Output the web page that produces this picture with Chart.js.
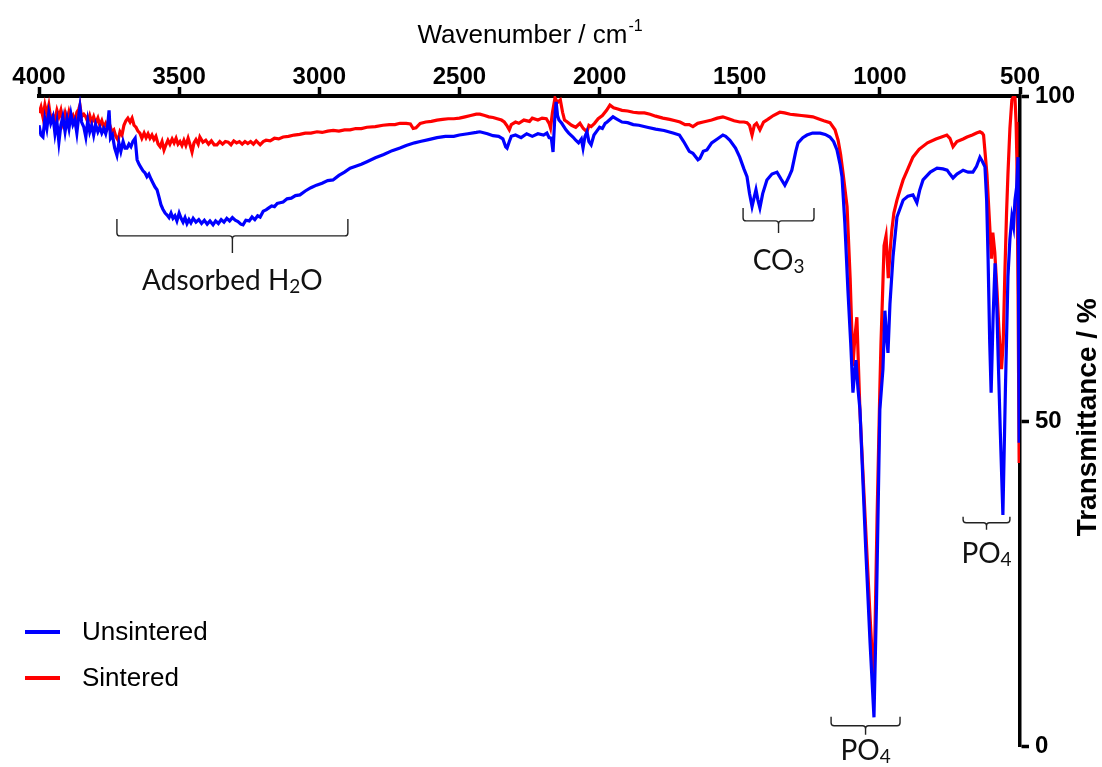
<!DOCTYPE html>
<html>
<head>
<meta charset="utf-8">
<script src="https://cdn.jsdelivr.net/npm/chart.js@4"></script>
<style>
  html, body { margin: 0; padding: 0; background: #fff; }
  canvas { display: block; }
</style>
</head>
<body>
<canvas id="chart" width="1102" height="767"></canvas>
<script>
// FTIR spectra: [wavenumber / cm-1, transmittance / %]
const seriesNames = ['Unsintered', 'Sintered'];
const wavenumberTicks = [4000, 3500, 3000, 2500, 2000, 1500, 1000, 500];
const transmittanceTicks = [0, 50, 100];

const unsintered = [
    [4000, 95.5], [3993, 94.0], [3986, 93.7], [3979, 96.5], [3972, 95.0], [3965, 97.4], [3958, 95.8],
    [3950, 96.8], [3943, 94.2], [3936, 96.0], [3929, 92.9], [3922, 95.5], [3915, 96.8], [3907, 94.5],
    [3900, 96.5], [3893, 95.0], [3886, 97.2], [3879, 95.6], [3872, 96.3], [3865, 94.3], [3858, 97.0],
    [3854, 98.3], [3848, 96.0], [3840, 95.2], [3833, 93.7], [3826, 96.2], [3819, 94.5], [3812, 95.5],
    [3805, 94.0], [3798, 95.6], [3790, 94.5], [3783, 95.2], [3776, 94.3], [3769, 95.0], [3762, 94.2],
    [3755, 95.5], [3750, 97.8], [3745, 93.5], [3738, 94.0], [3730, 92.0], [3722, 90.9], [3715, 92.8],
    [3708, 91.5], [3700, 93.0], [3693, 92.0], [3686, 92.0], [3679, 92.6], [3672, 92.2], [3665, 93.0],
    [3657, 93.5], [3650, 90.2], [3643, 89.5], [3636, 89.0], [3629, 88.5], [3622, 88.2], [3615, 87.6],
    [3608, 88.0], [3600, 87.2], [3593, 86.6], [3586, 86.0], [3579, 85.6], [3572, 84.5], [3565, 83.3],
    [3558, 82.6], [3550, 82.0], [3543, 81.7], [3536, 81.3], [3529, 82.0], [3522, 81.2], [3515, 81.6],
    [3508, 80.8], [3500, 82.0], [3493, 81.2], [3486, 80.6], [3479, 81.3], [3472, 80.4], [3465, 81.0],
    [3458, 80.5], [3450, 81.2], [3440, 80.6], [3430, 81.0], [3420, 80.4], [3410, 80.9], [3400, 80.3],
    [3390, 80.8], [3379, 80.2], [3370, 80.8], [3360, 80.4], [3350, 81.0], [3340, 80.6], [3330, 81.2],
    [3320, 80.8], [3310, 81.3], [3300, 80.9], [3290, 80.7], [3280, 80.3], [3272, 80.2], [3262, 80.9],
    [3250, 80.8], [3240, 81.4], [3230, 81.0], [3220, 81.6], [3211, 81.4], [3200, 82.3], [3190, 82.5],
    [3180, 82.8], [3170, 83.1], [3160, 83.0], [3150, 83.5], [3140, 83.6], [3129, 83.7], [3115, 84.2],
    [3100, 84.3], [3085, 84.7], [3069, 84.8], [3050, 85.4], [3030, 85.9], [3010, 86.3], [2990, 86.6],
    [2970, 87.0], [2951, 87.1], [2930, 87.8], [2910, 88.3], [2890, 88.9], [2870, 89.2], [2850, 89.5],
    [2830, 89.9], [2800, 90.5], [2770, 91.0], [2740, 91.6], [2712, 92.0], [2690, 92.4], [2660, 92.8],
    [2640, 93.0], [2610, 93.3], [2580, 93.6], [2550, 93.8], [2520, 93.8], [2500, 94.0], [2470, 94.2],
    [2440, 94.4], [2427, 94.5], [2400, 94.2], [2380, 93.9], [2360, 93.8], [2345, 93.4], [2335, 92.2],
    [2330, 92.0], [2322, 93.0], [2315, 93.8], [2300, 94.0], [2280, 93.6], [2260, 94.2], [2240, 93.8],
    [2220, 94.2], [2200, 94.0], [2188, 94.3], [2180, 93.6], [2172, 93.5], [2166, 91.4], [2160, 96.5],
    [2155, 99.1], [2150, 97.0], [2145, 96.3], [2135, 95.8], [2120, 94.8], [2110, 94.3], [2095, 93.7],
    [2085, 93.2], [2075, 92.8], [2065, 93.4], [2059, 92.0], [2052, 93.8], [2045, 94.5], [2038, 93.0],
    [2030, 92.5], [2020, 94.0], [2010, 94.6], [2000, 95.2], [1990, 95.0], [1980, 95.8], [1973, 96.0],
    [1960, 96.5], [1952, 96.8], [1940, 96.5], [1920, 96.0], [1900, 95.9], [1880, 95.6], [1860, 95.5],
    [1830, 95.2], [1800, 94.9], [1770, 94.7], [1738, 94.3], [1715, 94.0], [1700, 93.0], [1680, 91.5],
    [1667, 91.2], [1649, 90.2], [1642, 90.4], [1630, 91.5], [1617, 91.7], [1600, 92.8], [1580, 93.4],
    [1560, 94.0], [1550, 93.8], [1535, 93.2], [1515, 92.0], [1500, 90.6], [1485, 88.8], [1474, 87.6],
    [1465, 85.0], [1456, 83.0], [1448, 84.5], [1442, 85.6], [1435, 84.0], [1428, 82.8], [1418, 85.0],
    [1403, 87.1], [1385, 88.0], [1367, 88.3], [1352, 87.2], [1339, 86.3], [1325, 87.5], [1314, 88.6],
    [1300, 91.5], [1292, 92.8], [1275, 93.6], [1260, 94.0], [1240, 94.3], [1213, 94.3], [1195, 94.1],
    [1178, 93.7], [1165, 93.0], [1153, 91.7], [1142, 89.5], [1135, 87.6], [1125, 80.5], [1114, 70.2],
    [1104, 62.0], [1096, 54.4], [1090, 57.5], [1085, 59.4], [1078, 55.0], [1071, 51.8], [1050, 30.0],
    [1035, 16.0], [1021, 4.5], [1012, 22.0], [1000, 51.8], [989, 58.0], [982, 67.0], [976, 63.0],
    [971, 60.5], [964, 68.0], [953, 75.3], [939, 81.4], [917, 84.0], [900, 84.6], [882, 84.8],
    [868, 83.6], [858, 85.5], [846, 87.1], [820, 88.3], [796, 88.9], [775, 88.8], [760, 88.6],
    [750, 88.0], [739, 87.4], [725, 88.0], [703, 88.6], [685, 88.3], [668, 88.3], [655, 89.2],
    [643, 90.6], [635, 90.0], [625, 89.1], [619, 84.0], [614, 75.3], [608, 62.0], [603, 54.4],
    [596, 66.0], [589, 74.3], [583, 68.0], [578, 60.0], [570, 48.0], [561, 35.6], [552, 55.0],
    [543, 72.2], [536, 78.0], [529, 81.4], [523, 80.0], [518, 84.0], [512, 86.0], [507, 90.6],
    [503, 46.7]
];

const sintered = [
    [4000, 97.4], [3993, 98.3], [3986, 96.8], [3979, 98.6], [3972, 97.2], [3965, 98.6], [3958, 96.5],
    [3950, 97.0], [3943, 96.3], [3936, 97.8], [3929, 96.8], [3922, 97.8], [3915, 96.0], [3907, 97.4],
    [3900, 96.2], [3893, 97.6], [3886, 96.5], [3879, 97.0], [3872, 96.0], [3865, 97.5], [3858, 98.0],
    [3854, 98.6], [3848, 96.8], [3840, 97.2], [3833, 96.8], [3826, 96.0], [3819, 97.0], [3812, 96.0],
    [3805, 96.8], [3798, 95.8], [3790, 96.6], [3783, 95.5], [3776, 96.2], [3769, 95.2], [3762, 95.8],
    [3755, 95.0], [3748, 95.6], [3740, 94.5], [3733, 94.8], [3726, 93.8], [3718, 93.2], [3711, 94.5],
    [3704, 94.0], [3697, 95.5], [3690, 96.2], [3683, 96.6], [3675, 96.0], [3668, 96.6], [3661, 95.5],
    [3654, 95.2], [3647, 94.6], [3640, 94.3], [3633, 93.5], [3625, 94.3], [3618, 93.6], [3611, 94.2],
    [3604, 93.5], [3597, 94.0], [3590, 93.3], [3583, 93.8], [3575, 92.6], [3568, 92.2], [3561, 93.0],
    [3554, 91.7], [3547, 92.5], [3540, 93.2], [3533, 92.6], [3525, 93.4], [3518, 92.8], [3511, 93.5],
    [3504, 92.6], [3497, 93.0], [3490, 92.4], [3483, 93.2], [3476, 92.4], [3468, 93.5], [3461, 92.5],
    [3454, 91.4], [3447, 92.8], [3440, 93.3], [3432, 92.6], [3426, 93.7], [3415, 92.9], [3405, 93.2],
    [3395, 92.6], [3385, 93.1], [3375, 92.5], [3365, 92.5], [3355, 93.0], [3345, 92.6], [3335, 93.0],
    [3325, 92.9], [3315, 92.5], [3305, 93.1], [3295, 92.8], [3285, 93.0], [3275, 92.6], [3265, 93.0],
    [3255, 92.7], [3245, 93.0], [3235, 92.6], [3225, 93.1], [3211, 92.5], [3200, 93.0], [3190, 93.2],
    [3175, 93.1], [3160, 93.5], [3145, 93.4], [3129, 93.7], [3110, 93.8], [3090, 94.0], [3070, 94.1],
    [3050, 94.3], [3030, 94.3], [3008, 94.5], [2990, 94.4], [2970, 94.6], [2950, 94.7], [2930, 94.6],
    [2910, 94.8], [2890, 94.8], [2870, 95.0], [2850, 95.0], [2830, 95.2], [2800, 95.3], [2773, 95.5],
    [2750, 95.6], [2730, 95.6], [2712, 95.8], [2690, 95.8], [2675, 95.7], [2665, 95.0], [2655, 95.1],
    [2640, 95.8], [2620, 96.0], [2600, 96.1], [2580, 96.3], [2560, 96.4], [2540, 96.5], [2520, 96.5],
    [2500, 96.6], [2480, 96.8], [2460, 97.0], [2440, 97.2], [2427, 97.2], [2410, 97.0], [2395, 96.8],
    [2380, 96.7], [2365, 96.5], [2350, 96.3], [2340, 96.0], [2330, 95.4], [2322, 94.8], [2315, 95.6],
    [2300, 96.0], [2288, 95.8], [2270, 96.3], [2250, 96.1], [2240, 96.6], [2220, 96.3], [2205, 96.6],
    [2190, 96.5], [2180, 95.8], [2175, 95.1], [2168, 97.5], [2159, 99.7], [2150, 99.0], [2140, 99.4],
    [2132, 97.5], [2125, 96.3], [2115, 96.0], [2100, 95.5], [2085, 95.2], [2070, 95.8], [2058, 95.0],
    [2045, 94.5], [2038, 95.5], [2030, 95.3], [2018, 95.8], [2005, 96.5], [1990, 97.0], [1975, 97.8],
    [1963, 98.6], [1950, 98.2], [1935, 98.0], [1920, 97.8], [1900, 97.7], [1880, 97.5], [1860, 97.4],
    [1840, 97.4], [1820, 97.2], [1800, 96.9], [1774, 96.6], [1750, 96.4], [1730, 96.2], [1713, 96.0],
    [1695, 95.6], [1680, 95.6], [1667, 95.3], [1650, 95.8], [1630, 96.0], [1600, 96.3], [1580, 96.6],
    [1560, 96.8], [1540, 96.5], [1520, 96.2], [1500, 96.0], [1485, 96.0], [1474, 95.9], [1465, 95.5],
    [1456, 94.0], [1448, 95.5], [1440, 95.8], [1428, 94.8], [1415, 96.0], [1400, 96.4], [1380, 97.0],
    [1357, 97.5], [1340, 97.4], [1320, 97.2], [1300, 97.1], [1280, 97.0], [1260, 96.9], [1239, 96.8],
    [1220, 96.5], [1200, 96.2], [1178, 95.9], [1160, 94.8], [1149, 93.2], [1140, 91.0], [1131, 88.0],
    [1117, 83.0], [1106, 72.0], [1096, 58.5], [1089, 63.0], [1082, 66.0], [1076, 58.0], [1071, 51.5],
    [1050, 33.0], [1035, 20.0], [1021, 9.1], [1010, 35.0], [1000, 55.0], [996, 62.0], [990, 70.0],
    [985, 77.0], [978, 78.5], [970, 72.0], [962, 77.0], [957, 79.5], [950, 82.0], [939, 84.0],
    [928, 85.6], [917, 87.1], [900, 88.8], [882, 90.6], [860, 91.8], [830, 92.8], [800, 93.4],
    [780, 93.7], [761, 94.0], [750, 93.5], [739, 92.2], [725, 93.0], [703, 93.4], [689, 93.7],
    [670, 94.0], [655, 94.3], [643, 94.5], [635, 94.3], [630, 94.0], [618, 88.0], [608, 80.0],
    [602, 75.0], [597, 79.0], [590, 76.0], [582, 70.0], [575, 64.0], [566, 58.0], [560, 62.0],
    [554, 72.8], [548, 82.0], [543, 88.0], [536, 95.0], [529, 99.4], [522, 100.0], [518, 99.8],
    [514, 96.0], [511, 90.0], [507, 70.0], [503, 43.6]
];

// band labels: bracket spans [from, to] in cm-1, horizontal bar at transmittance `at`
const bands = [
    { text: 'Adsorbed H', sub: '2', tail: 'O', from: 3722, to: 2898, at: 78.5, rise: 17, drop: 17, textDy: 54 },
    { text: 'CO', sub: '3', tail: '', from: 1488, to: 1235, at: 80.8, rise: 13, drop: 12, textDy: 49 },
    { text: 'PO', sub: '4', tail: '', from: 1174, to: 928, at: 3.2, rise: 9, drop: 9, textDy: 34 },
    { text: 'PO', sub: '4', tail: '', from: 703, to: 536, at: 34.4, rise: 6, drop: 7, textDy: 40 }
];

const COLOR_UNSINTERED = '#0000ff';
const COLOR_SINTERED   = '#ff0000';
const FONT_SANS  = '"Liberation Sans", Arial, sans-serif';
const FONT_LABEL = 'Lato, "Open Sans", sans-serif';

Chart.defaults.font.family = FONT_SANS;

function toPoints(pairs) {
    return pairs.map(p => ({ x: p[0], y: p[1] }));
}

function drawBracket(ctx, xL, xR, y, rise, drop) {
    const xc = (xL + xR) / 2;
    const r = 3;
    ctx.beginPath();
    ctx.moveTo(xL, y - rise);
    ctx.lineTo(xL, y - r);
    ctx.quadraticCurveTo(xL, y, xL + r, y);
    ctx.lineTo(xc - r, y);
    ctx.quadraticCurveTo(xc, y, xc, y + r);
    ctx.lineTo(xc, y + drop);
    ctx.moveTo(xc, y + r);
    ctx.quadraticCurveTo(xc, y, xc + r, y);
    ctx.lineTo(xR - r, y);
    ctx.quadraticCurveTo(xR, y, xR, y - r);
    ctx.lineTo(xR, y - rise);
    ctx.stroke();
}

// text with a subscript part, centred on cx
function drawSubText(ctx, cx, baseline, main, sub, tail, size) {
    const bigFont = `${size}px ${FONT_LABEL}`;
    const subFont = `${Math.round(size * 0.68)}px ${FONT_LABEL}`;
    ctx.font = bigFont;
    const w1 = ctx.measureText(main).width;
    const w3 = ctx.measureText(tail).width;
    ctx.font = subFont;
    const w2 = ctx.measureText(sub).width;
    let x = cx - (w1 + w2 + w3) / 2;
    ctx.textAlign = 'left';
    ctx.textBaseline = 'alphabetic';
    ctx.font = bigFont;
    ctx.fillText(main, x, baseline);
    x += w1;
    ctx.font = subFont;
    ctx.fillText(sub, x, baseline + 3);
    x += w2;
    ctx.font = bigFont;
    ctx.fillText(tail, x, baseline);
}

const decorations = {
    id: 'decorations',
    afterDraw(chart) {
        const { ctx, chartArea, scales } = chart;
        const xs = scales.x, ys = scales.y;
        ctx.save();
        ctx.fillStyle = '#000';

        // x axis title with superscript
        const titleFont = `26px ${FONT_SANS}`;
        const supFont   = `16px ${FONT_SANS}`;
        ctx.font = titleFont;
        const main = 'Wavenumber / cm';
        const wMain = ctx.measureText(main).width;
        ctx.font = supFont;
        const wSup = ctx.measureText('-1').width;
        const cx = (chartArea.left + chartArea.right) / 2;
        let tx = cx - (wMain + wSup) / 2;
        ctx.textAlign = 'left';
        ctx.textBaseline = 'alphabetic';
        ctx.font = titleFont;
        ctx.fillText(main, tx, 43);
        ctx.font = supFont;
        ctx.fillText('-1', tx + wMain + 1, 31);

        // y axis title, reading upwards
        ctx.save();
        ctx.translate(1096, (chartArea.top + chartArea.bottom) / 2 - 4);
        ctx.rotate(-Math.PI / 2);
        ctx.font = `bold 28px ${FONT_SANS}`;
        ctx.textAlign = 'center';
        ctx.textBaseline = 'alphabetic';
        ctx.fillText('Transmittance / %', 0, 0);
        ctx.restore();

        // legend
        const legendRows = [632, 678];
        chart.data.datasets.forEach((ds, i) => {
            const y = legendRows[i];
            ctx.strokeStyle = ds.borderColor;
            ctx.lineWidth = 4;
            ctx.beginPath();
            ctx.moveTo(25, y);
            ctx.lineTo(60, y);
            ctx.stroke();
            ctx.fillStyle = '#000';
            ctx.font = `26px ${FONT_SANS}`;
            ctx.textAlign = 'left';
            ctx.textBaseline = 'middle';
            ctx.fillText(ds.label, 82, y + 1);
        });

        // band brackets and labels
        ctx.strokeStyle = '#222';
        ctx.lineWidth = 1.4;
        ctx.fillStyle = '#111';
        bands.forEach(b => {
            const xL = xs.getPixelForValue(b.from);
            const xR = xs.getPixelForValue(b.to);
            const y  = ys.getPixelForValue(b.at);
            drawBracket(ctx, xL, xR, y, b.rise, b.drop);
            drawSubText(ctx, (xL + xR) / 2, y + b.textDy, b.text, b.sub, b.tail, 28);
        });

        ctx.restore();
    }
};

new Chart(document.getElementById('chart'), {
    type: 'line',
    data: {
        datasets: [
            {
                label: seriesNames[0],
                data: toPoints(unsintered),
                borderColor: COLOR_UNSINTERED,
                backgroundColor: COLOR_UNSINTERED,
                borderWidth: 3.2,
                pointRadius: 0,
                tension: 0,
                fill: false
            },
            {
                label: seriesNames[1],
                data: toPoints(sintered),
                borderColor: COLOR_SINTERED,
                backgroundColor: COLOR_SINTERED,
                borderWidth: 3.2,
                pointRadius: 0,
                tension: 0,
                fill: false
            }
        ]
    },
    options: {
        responsive: false,
        animation: false,
        devicePixelRatio: 1,
        layout: { padding: { left: 39, right: 0, top: 0, bottom: 20 } },
        plugins: {
            legend: { display: false },
            tooltip: { enabled: false }
        },
        scales: {
            x: {
                type: 'linear',
                position: 'top',
                reverse: true,
                min: 500,
                max: 4000,
                afterBuildTicks: s => { s.ticks = wavenumberTicks.map(v => ({ value: v })); },
                afterFit: s => { s.height = 96; },
                ticks: {
                    color: '#000',
                    font: { size: 24, weight: 'bold' },
                    padding: -5,
                    maxRotation: 0,
                    autoSkip: false,
                    callback: v => String(v)
                },
                grid: {
                    drawOnChartArea: false,
                    drawTicks: true,
                    tickLength: 9,
                    tickWidth: 3.5,
                    tickColor: '#000'
                },
                border: { display: true, color: '#000', width: 4 }
            },
            y: {
                position: 'right',
                min: 0,
                max: 100,
                afterBuildTicks: s => { s.ticks = transmittanceTicks.map(v => ({ value: v })); },
                afterFit: s => { s.width = 82; },
                ticks: {
                    color: '#000',
                    font: { size: 24, weight: 'bold' },
                    padding: 6,
                    callback: v => String(v)
                },
                grid: {
                    drawOnChartArea: false,
                    drawTicks: true,
                    tickLength: 9,
                    tickWidth: 3.5,
                    tickColor: '#000'
                },
                border: { display: true, color: '#000', width: 3.5 }
            }
        }
    },
    plugins: [decorations]
});
</script>
</body>
</html>
